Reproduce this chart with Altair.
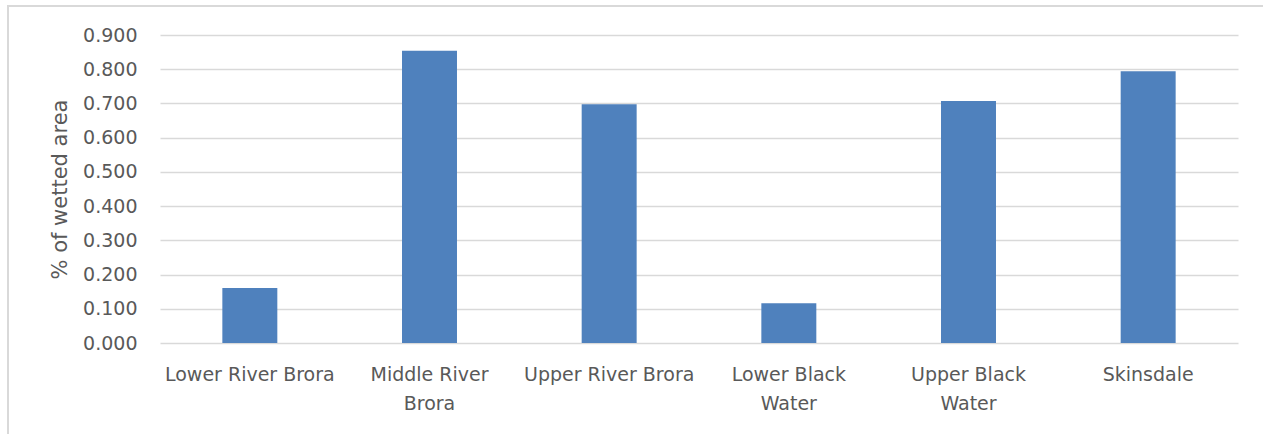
import altair as alt
import pandas as pd

# Share of wetted area by river section
sections = [
    "Lower River Brora",
    "Middle River Brora",
    "Upper River Brora",
    "Lower Black Water",
    "Upper Black Water",
    "Skinsdale",
]
wetted_share = [0.161, 0.854, 0.698, 0.116, 0.707, 0.794]

# How each category label wraps onto lines
label_lines = {
    "Middle River Brora": ["Middle River", "Brora"],
    "Lower Black Water": ["Lower Black", "Water"],
    "Upper Black Water": ["Upper Black", "Water"],
}
y_ticks = [0.0, 0.1, 0.2, 0.3, 0.4, 0.5, 0.6, 0.7, 0.8, 0.9]

df = pd.DataFrame({"section": sections, "share": wetted_share})

label_expr = "datum.label"
for name, lines in label_lines.items():
    arr = "[" + ",".join("'" + s + "'" for s in lines) + "]"
    label_expr = f"datum.label == '{name}' ? {arr} : ({label_expr})"

FONT = "DejaVu Sans"
TEXT = "#595959"
GRID = "#d9d9d9"
W, H = 1078, 308

bars = alt.Chart(df).mark_bar(color="#4F81BD").encode(
    x=alt.X(
        "section:N",
        sort=sections,
        scale=alt.Scale(paddingInner=0.694, paddingOuter=0.347),
        axis=alt.Axis(
            title=None,
            labelAngle=0,
            labelExpr=label_expr,
            labelFont=FONT,
            labelFontSize=19,
            labelColor=TEXT,
            labelPadding=22,
            labelLineHeight=29,
            labelBaseline="top",
            domain=False,
            ticks=False,
            grid=False,
        ),
    ),
    y=alt.Y(
        "share:Q",
        scale=alt.Scale(domain=[0, 0.9], nice=False),
        axis=alt.Axis(
            title="% of wetted area",
            titleFont=FONT,
            titleFontSize=21,
            titleFontWeight="normal",
            titleColor=TEXT,
            titlePadding=12,
            values=y_ticks,
            format=".3f",
            labelFont=FONT,
            labelFontSize=19,
            labelColor=TEXT,
            labelPadding=23,
            domain=False,
            ticks=False,
            grid=True,
            gridColor=GRID,
            gridWidth=1.5,
        ),
    ),
)

# Outer chart frame
frame = alt.Chart(df).mark_rect(fill=None, stroke=GRID, strokeWidth=1.5).encode(
    x=alt.value(-152),
    x2=alt.value(W + 26),
    y=alt.value(-29),
    y2=alt.value(H + 93),
)

chart = alt.layer(frame, bars).properties(
    width=W,
    height=H,
    padding={"left": 160, "top": 35, "right": 25, "bottom": 91},
    autosize=alt.AutoSizeParams(type="none"),
    background="white",
).configure_view(stroke=None)

chart.save("out.html", embed_options={"renderer": "svg", "actions": False})
